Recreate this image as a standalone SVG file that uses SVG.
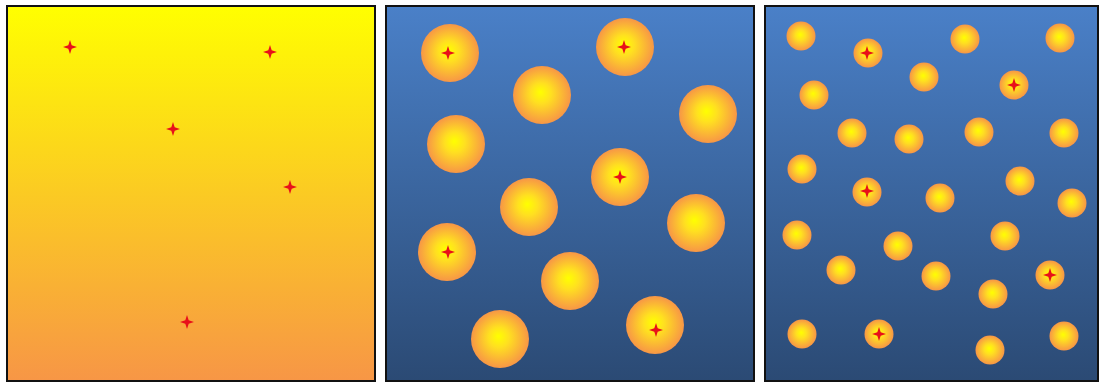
<svg xmlns="http://www.w3.org/2000/svg" width="1100" height="383" viewBox="0 0 1100 383">
<defs>
<linearGradient id="gY" x1="0" y1="0" x2="0" y2="1"><stop offset="0" stop-color="#FFFF00"/><stop offset="1" stop-color="#F79646"/></linearGradient>
<linearGradient id="gB" x1="0" y1="0" x2="0" y2="1"><stop offset="0" stop-color="#4A80C8"/><stop offset="1" stop-color="#2B4A74"/></linearGradient>
<radialGradient id="gS" cx="0.5" cy="0.5" r="0.5" fx="0.47" fy="0.45"><stop offset="0" stop-color="#FFFF00"/><stop offset="0.35" stop-color="#FFE020"/><stop offset="1" stop-color="#F79646"/></radialGradient>
<path id="st" d="M0,-7 L1.7,-1.7 L7,0 L1.7,1.7 L0,7 L-1.7,1.7 L-7,0 L-1.7,-1.7 Z" fill="#E8101A"/>
</defs>
<style>.pn{stroke:#111;stroke-width:2}.b{fill:url(#gS)}</style>
<rect width="1100" height="383" fill="#fff"/>
<g id="panel1">
<rect class="pn" x="7" y="6" width="368" height="375" fill="url(#gY)"/>
<use href="#st" x="70" y="47"/><use href="#st" x="270" y="52"/><use href="#st" x="173" y="129"/><use href="#st" x="290" y="187"/><use href="#st" x="187" y="322"/>
</g>
<g id="panel2">
<rect class="pn" x="386" y="6" width="368" height="375" fill="url(#gB)"/>
<g class="b">
<circle cx="450" cy="53" r="29"/><circle cx="625" cy="47" r="29"/><circle cx="542" cy="95" r="29"/><circle cx="708" cy="114" r="29"/><circle cx="456" cy="144" r="29"/><circle cx="620" cy="177" r="29"/><circle cx="529" cy="207" r="29"/><circle cx="696" cy="223" r="29"/><circle cx="447" cy="252" r="29"/><circle cx="570" cy="281" r="29"/><circle cx="655" cy="325" r="29"/><circle cx="500" cy="339" r="29"/>
</g>
<use href="#st" x="448" y="53"/><use href="#st" x="624" y="47"/><use href="#st" x="620" y="177"/><use href="#st" x="448" y="252"/><use href="#st" x="656" y="330"/>
</g>
<g id="panel3">
<rect class="pn" x="765" y="6" width="333" height="375" fill="url(#gB)"/>
<g class="b">
<circle cx="801" cy="36" r="14.5"/><circle cx="868" cy="53" r="14.5"/><circle cx="965" cy="39" r="14.5"/><circle cx="1060" cy="38" r="14.5"/><circle cx="814" cy="95" r="14.5"/><circle cx="924" cy="77" r="14.5"/><circle cx="1014" cy="85" r="14.5"/><circle cx="852" cy="133" r="14.5"/><circle cx="909" cy="139" r="14.5"/><circle cx="979" cy="132" r="14.5"/><circle cx="1064" cy="133" r="14.5"/><circle cx="802" cy="169" r="14.5"/><circle cx="867" cy="192" r="14.5"/><circle cx="940" cy="198" r="14.5"/><circle cx="1020" cy="181" r="14.5"/><circle cx="1072" cy="203" r="14.5"/><circle cx="797" cy="235" r="14.5"/><circle cx="898" cy="246" r="14.5"/><circle cx="1005" cy="236" r="14.5"/><circle cx="841" cy="270" r="14.5"/><circle cx="936" cy="276" r="14.5"/><circle cx="1050" cy="275" r="14.5"/><circle cx="993" cy="294" r="14.5"/><circle cx="802" cy="334" r="14.5"/><circle cx="879" cy="334" r="14.5"/><circle cx="990" cy="350" r="14.5"/><circle cx="1064" cy="336" r="14.5"/>
</g>
<use href="#st" x="867" y="53"/><use href="#st" x="1014" y="85"/><use href="#st" x="867" y="191"/><use href="#st" x="1050" y="275"/><use href="#st" x="879" y="334"/>
</g>
</svg>
